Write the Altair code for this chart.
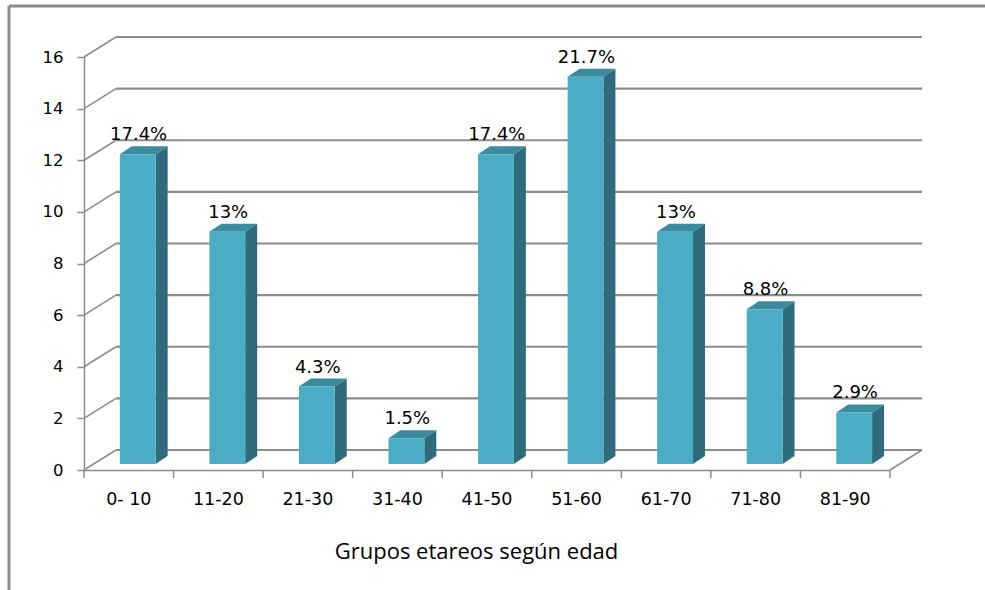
import altair as alt
import pandas as pd

# Age groups, patient counts and the percentage shown above each bar
categories = ["0- 10", "11-20", "21-30", "31-40", "41-50", "51-60", "61-70", "71-80", "81-90"]
counts = [12, 9, 3, 1, 12, 15, 9, 6, 2]
pct_labels = ["17.4%", "13%", "4.3%", "1.5%", "17.4%", "21.7%", "13%", "8.8%", "2.9%"]
y_ticks = [0, 2, 4, 6, 8, 10, 12, 14, 16]

W, H = 806, 413
X_MAX, Y_MAX = len(categories), 16
PX_X = W / X_MAX          # pixels per category
PX_Y = H / Y_MAX          # pixels per unit of count

# 3-D look: back wall shift and bar depth, in pixels
WALL_DX, WALL_DY = 32, -20
BAR_DX, BAR_DY = 12, -8
BAR_LIFT = -6
dxu = BAR_DX / PX_X
dyu = -BAR_DY / PX_Y

FRONT = "#4BACC6"
SIDE = "#2F6C7B"
TOP = "#3B8A9E"
GRID = "#8C8C8C"

x_scale = alt.Scale(domain=[0, X_MAX], nice=False, zero=False)
y_scale = alt.Scale(domain=[0, Y_MAX], nice=False)

bars = pd.DataFrame({
    "cat": categories,
    "count": counts,
    "pct": pct_labels,
    "i": list(range(len(categories))),
})
bars["x0"] = bars["i"] + 0.4
bars["x1"] = bars["i"] + 0.8
bars["xc"] = bars["i"] + 0.5
bars["xl"] = bars["i"] + 0.61

# side and top faces of each bar, drawn as parallelogram areas
side_rows = []
top_rows = []
for _, r in bars.iterrows():
    c = r["count"]
    side_rows.append({"cat": r["cat"], "x": r["x1"], "y": c, "y2": 0})
    side_rows.append({"cat": r["cat"], "x": r["x1"] + dxu, "y": c + dyu, "y2": dyu})
    top_rows.append({"cat": r["cat"], "x": r["x0"], "y": c, "y2": c})
    top_rows.append({"cat": r["cat"], "x": r["x0"] + dxu, "y": c + dyu, "y2": c})
    top_rows.append({"cat": r["cat"], "x": r["x1"], "y": c + dyu, "y2": c})
    top_rows.append({"cat": r["cat"], "x": r["x1"] + dxu, "y": c + dyu, "y2": c + dyu})
side_df = pd.DataFrame(side_rows)
top_df = pd.DataFrame(top_rows)

ticks_df = pd.DataFrame({"v": y_ticks, "x0": 0, "x1": X_MAX})

# back wall gridlines
back_grid = alt.Chart(ticks_df).mark_rule(
    color=GRID, strokeWidth=2.2,
    xOffset=WALL_DX, x2Offset=WALL_DX, yOffset=WALL_DY, y2Offset=WALL_DY,
).encode(
    x=alt.X("x0:Q", scale=x_scale),
    x2="x1:Q",
    y=alt.Y("v:Q", scale=y_scale),
    y2="v:Q",
)

# side wall diagonals joining the axis ticks to the back wall
wall_diag = alt.Chart(ticks_df).mark_rule(
    color=GRID, strokeWidth=1.5, x2Offset=WALL_DX, y2Offset=WALL_DY,
).encode(
    x=alt.X("x0:Q", scale=x_scale),
    x2="x0:Q",
    y=alt.Y("v:Q", scale=y_scale),
    y2="v:Q",
)

floor_diag = alt.Chart(pd.DataFrame({"x": [X_MAX], "v": [0]})).mark_rule(
    color=GRID, strokeWidth=1.5, x2Offset=WALL_DX, y2Offset=WALL_DY,
).encode(
    x=alt.X("x:Q", scale=x_scale),
    x2="x:Q",
    y=alt.Y("v:Q", scale=y_scale),
    y2="v:Q",
)

# category tick marks below the front baseline
cat_ticks = alt.Chart(pd.DataFrame({"k": list(range(X_MAX + 1))})).mark_rule(
    color=GRID, strokeWidth=1.5,
).encode(
    x=alt.X("k:Q", scale=x_scale),
    y=alt.value(H),
    y2=alt.value(H + 8),
)

front = alt.Chart(bars).mark_rect(
    color=FRONT, yOffset=BAR_LIFT, y2Offset=BAR_LIFT,
).encode(
    x=alt.X("x0:Q", scale=x_scale),
    x2="x1:Q",
    y=alt.Y("count:Q", scale=y_scale),
    y2=alt.datum(0),
)

side = alt.Chart(side_df).mark_area(
    color=SIDE, yOffset=BAR_LIFT, y2Offset=BAR_LIFT,
).encode(
    x=alt.X("x:Q", scale=x_scale),
    y=alt.Y("y:Q", scale=y_scale),
    y2="y2:Q",
    detail="cat:N",
)

top = alt.Chart(top_df).mark_area(
    color=TOP, yOffset=BAR_LIFT, y2Offset=BAR_LIFT,
).encode(
    x=alt.X("x:Q", scale=x_scale),
    y=alt.Y("y:Q", scale=y_scale),
    y2="y2:Q",
    detail="cat:N",
)

pct_text = alt.Chart(bars).mark_text(
    font="DejaVu Sans", fontSize=18, color="#000000",
    baseline="alphabetic", align="center", yOffset=BAR_LIFT - 14,
).encode(
    x=alt.X("xl:Q", scale=x_scale),
    y=alt.Y("count:Q", scale=y_scale),
    text="pct:N",
)

cat_text = alt.Chart(bars).mark_text(
    font="DejaVu Sans", fontSize=17.5, color="#000000",
    baseline="alphabetic", align="center",
).encode(
    x=alt.X("xc:Q", scale=x_scale),
    y=alt.value(H + 35),
    text="cat:N",
)

# outer frame (top and left edges)
frame_top = alt.Chart(pd.DataFrame({"a": [0]})).mark_rule(color="#8A8A8A", strokeWidth=3).encode(
    x=alt.value(-75), x2=alt.value(W + 95), y=alt.value(-51),
)
frame_left = alt.Chart(pd.DataFrame({"a": [0]})).mark_rule(color="#8A8A8A", strokeWidth=3).encode(
    x=alt.value(-75), y=alt.value(-51), y2=alt.value(H + 120),
)

# axes: front y axis with ticks/labels, front x baseline with the title
axes = alt.Chart(pd.DataFrame({"x": [0], "y": [0]})).mark_point(opacity=0).encode(
    x=alt.X("x:Q", scale=x_scale, axis=alt.Axis(
        values=list(range(X_MAX + 1)), labels=False, ticks=False, grid=False,
        domainColor=GRID, domainWidth=1.5,
        title="Grupos etareos según edad", titleFont="Open Sans", titleFontSize=22,
        titleFontWeight="normal", titleColor="#000000",
        titleX=392, titleY=88, titleBaseline="alphabetic", titleAlign="center",
    )),
    y=alt.Y("y:Q", scale=y_scale, axis=alt.Axis(
        values=y_ticks, grid=False, title=None,
        domainColor=GRID, domainWidth=1.5, tickColor=GRID, tickWidth=1.5, tickSize=7,
        labelFont="DejaVu Sans", labelFontSize=16.5, labelColor="#000000", labelPadding=14,
    )),
)

chart = alt.layer(
    back_grid, wall_diag, floor_diag, cat_ticks, axes,
    side, top, front, pct_text, cat_text, frame_top, frame_left,
).properties(
    width=W, height=H,
    padding={"left": 84, "top": 57, "right": 95, "bottom": 120},
    autosize=alt.AutoSizeParams(type="none"),
    background="#FFFFFF",
).configure_view(stroke=None)

chart.save("out.html", embed_options={"renderer": "svg", "actions": False})
